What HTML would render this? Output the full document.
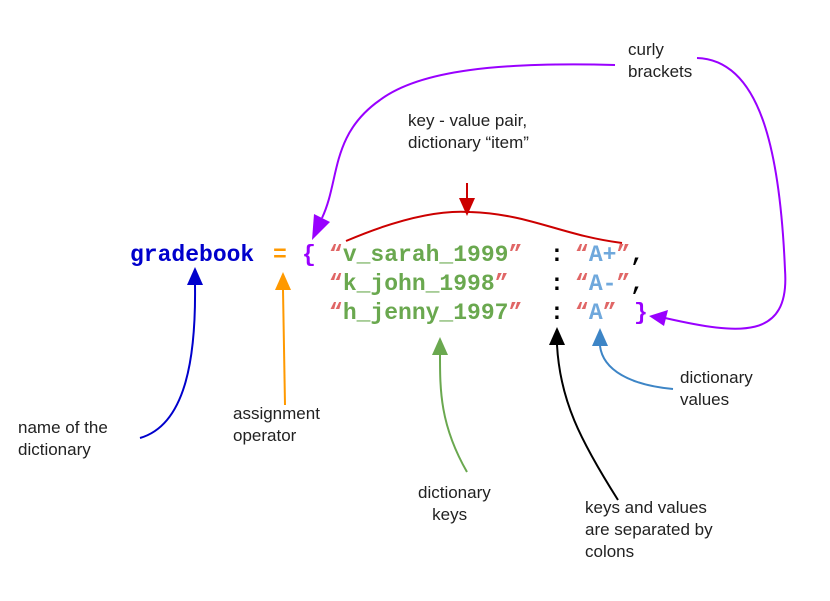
<!DOCTYPE html>
<html><head><meta charset="utf-8"><style>
html,body{margin:0;padding:0;background:#fff;}
body{width:830px;height:601px;position:relative;overflow:hidden;}
.c{position:absolute;font-family:"Liberation Mono",monospace;font-weight:bold;font-size:23px;line-height:23px;white-space:pre;}
.l{position:absolute;font-family:"Liberation Sans","DejaVu Sans",sans-serif;font-size:17px;line-height:22px;color:#222;white-space:pre;}
.g{color:#6aa84f}.q{color:#e06666}.b{color:#6fa8dc}
</style></head><body>
<svg width="830" height="601" style="position:absolute;left:0;top:0">
<g fill="none" stroke-width="2">
<path d="M140,438 C185,425 196,360 195,285" stroke="#0000cc"/>
<path d="M285,405 L283,290" stroke="#ff9900"/>
<path d="M467,472 C440,425 440,390 440,355" stroke="#6aa84f"/>
<path d="M618,500 C580,440 560,400 557,345" stroke="#000"/>
<path d="M673,389 C630,385 603,370 600,346" stroke="#3d85c6"/>
<path d="M346,241 C400,218 440,210 470,212 C530,214 560,235 622,243" stroke="#cc0000"/>
<path d="M467,183 L467,198" stroke="#cc0000"/>
<path d="M615,65 C500,62 420,70 380,100 C330,135 340,180 322,218" stroke="#9900ff"/>
<path d="M697,58 C760,60 780,150 785,270 C790,340 740,335 665,318" stroke="#9900ff"/>
</g>
<polygon points="187,285 203,285 195,267" fill="#0000cc"/>
<polygon points="275,290 291,290 283,272" fill="#ff9900"/>
<polygon points="432,355 448,355 440,337" fill="#6aa84f"/>
<polygon points="549,345 565,345 557,327" fill="#000"/>
<polygon points="592,346 608,346 600,328" fill="#3d85c6"/>
<polygon points="459,198 475,198 467,216" fill="#cc0000"/>
<polygon points="314,214 330,222 312,240" fill="#9900ff"/>
<polygon points="668,310 664,326 649,316" fill="#9900ff"/>
</svg>
<div class="c" style="left:130px;top:244px;color:#0000cc">gradebook</div>
<div class="c" style="left:273px;top:244px;color:#ff9900">=</div>
<div class="c" style="left:302px;top:244px;color:#9900ff">{</div>
<div class="c" style="left:329px;top:244px"><span class="q">“</span><span class="g">v_sarah_1999</span><span class="q">”</span></div>
<div class="c" style="left:329px;top:273px"><span class="q">“</span><span class="g">k_john_1998</span><span class="q">”</span></div>
<div class="c" style="left:329px;top:302px"><span class="q">“</span><span class="g">h_jenny_1997</span><span class="q">”</span></div>
<div class="c" style="left:550px;top:244px">:</div>
<div class="c" style="left:550px;top:273px">:</div>
<div class="c" style="left:550px;top:302px">:</div>
<div class="c" style="left:575px;top:244px"><span class="q">“</span><span class="b">A+</span><span class="q">”</span>,</div>
<div class="c" style="left:575px;top:273px"><span class="q">“</span><span class="b">A-</span><span class="q">”</span>,</div>
<div class="c" style="left:575px;top:302px"><span class="q">“</span><span class="b">A</span><span class="q">”</span></div>
<div class="c" style="left:634px;top:302px;color:#9900ff">}</div>
<div class="l" style="left:628px;top:39px">curly
brackets</div>
<div class="l" style="left:408px;top:110px">key - value pair,
dictionary “item”</div>
<div class="l" style="left:18px;top:417px">name of the
dictionary</div>
<div class="l" style="left:233px;top:403px">assignment
operator</div>
<div class="l" style="left:418px;top:482px">dictionary
   keys</div>
<div class="l" style="left:585px;top:497px">keys and values
are separated by
colons</div>
<div class="l" style="left:680px;top:367px">dictionary
values</div>
</body></html>
